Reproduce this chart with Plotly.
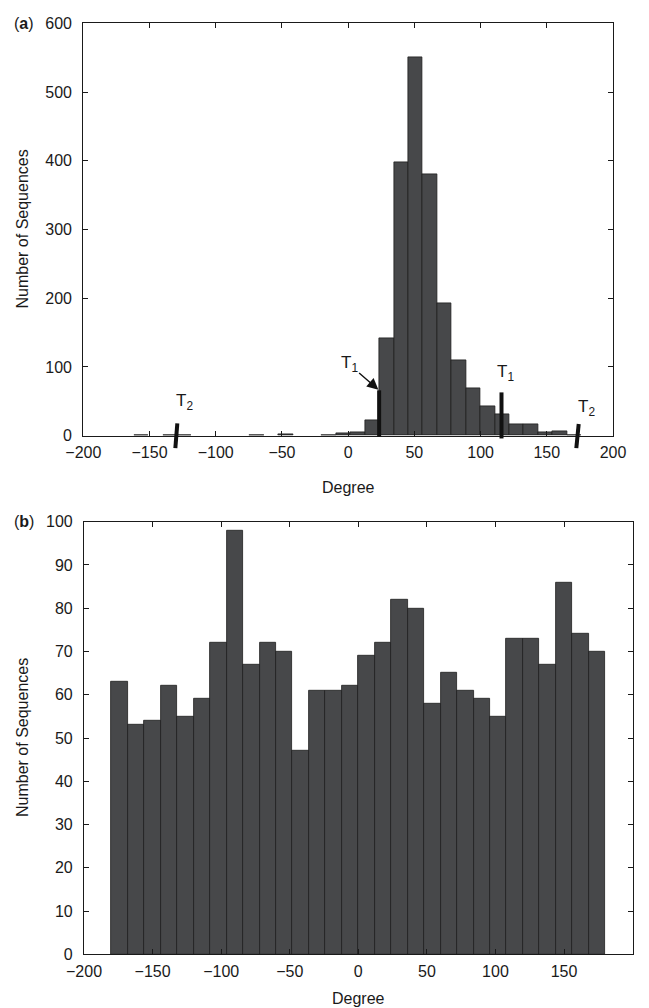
import plotly.graph_objects as go

# ---------------- data ----------------
top_centers = [-167.15, -156.25, -145.35, -134.45, -123.55, -112.65, -101.75, -90.85,
               -79.95, -69.05, -58.15, -47.25, -36.35, -25.45, -14.55, -3.65,
               7.25, 18.15, 29.05, 39.95, 50.85, 61.75, 72.65, 83.55,
               94.45, 105.35, 116.25, 127.15, 138.05, 148.95, 159.85, 170.75]
top_counts = [0, 1, 0, 1, 1, 0, 0, 0,
              0, 1, 0, 2, 0, 0, 1, 4,
              5, 22, 142, 398, 550, 381, 192, 110,
              69, 43, 31, 17, 17, 5, 7, 1]
top_bin_width = 10.9

bot_centers = [-174, -162, -150, -138, -126, -114, -102, -90, -78, -66,
               -54, -42, -30, -18, -6, 6, 18, 30, 42, 54,
               66, 78, 90, 102, 114, 126, 138, 150, 162, 174]
bot_counts = [63, 53, 54, 62, 55, 59, 72, 98, 67, 72,
              70, 47, 61, 61, 62, 69, 72, 82, 80, 58,
              65, 61, 59, 55, 73, 73, 67, 86, 74, 70]
bot_bin_width = 12

x_ticks = [-200, -150, -100, -50, 0, 50, 100, 150, 200]
top_y_ticks = [0, 100, 200, 300, 400, 500, 600]
bot_y_ticks = [0, 10, 20, 30, 40, 50, 60, 70, 80, 90, 100]

# threshold markers (top panel): x at top, x at bottom, y top, y bottom
marker_names = ["T1", "T1", "T2", "T2"]
marker_x_top = [23.4, 115.8, -129.0, 174.1]
marker_x_bot = [23.4, 115.8, -130.5, 172.3]
marker_y_top = [66, 63, 18, 17]
marker_y_bot = [-1, -4, -18, -18]

# labels for markers (x, y in data units)
label_x = [119.0, -123.5, 180.0]
label_y = [91, 49, 40]
label_text = ["T<sub>1</sub>", "T<sub>2</sub>", "T<sub>2</sub>"]

# page is 649x1008 with the browser's 8px body margin before the figure
W, H = 649, 1008
OFF = 8
FW, FH = W - 2 * OFF, H - OFF


def xp(px):
    return (px - OFF) / FW


def yp(py):
    return 1 - (py - OFF) / FH


FONT = "Liberation Sans, Arial, Helvetica, sans-serif"
INK = "#1a1a1a"
BAR = "#47484a"

top_line_w = [0.8 if c > 0 else 0 for c in top_counts]

fig = go.Figure()
fig.add_bar(x=top_centers, y=top_counts, width=top_bin_width, xaxis="x", yaxis="y",
            marker=dict(color=BAR, line=dict(color="#1e1e1e", width=top_line_w)),
            showlegend=False)
fig.add_bar(x=bot_centers, y=bot_counts, width=bot_bin_width, xaxis="x2", yaxis="y2",
            marker=dict(color=BAR, line=dict(color="#1e1e1e", width=0.8)), showlegend=False)

axis_common = dict(showline=True, linecolor=INK, linewidth=1.2, mirror="ticks",
                   ticks="inside", ticklen=5, tickcolor=INK, tickwidth=1,
                   showgrid=False, zeroline=False, automargin=False,
                   tickfont=dict(family=FONT, size=16, color=INK))

top_dom_y = [yp(435.7), yp(23.3)]
bot_dom_y = [yp(954.3), yp(521.7)]

fig.update_layout(
    template="none",
    width=FW, height=FH,
    margin=dict(l=0, r=0, t=0, b=0, pad=0, autoexpand=False),
    paper_bgcolor="white", plot_bgcolor="white",
    bargap=0,
    font=dict(family=FONT, size=16, color=INK),
    xaxis=dict(axis_common, domain=[xp(83.3), xp(613)], range=[-200, 200],
               tickvals=x_ticks, anchor="y", ticklabelstandoff=2),
    yaxis=dict(axis_common, domain=top_dom_y, range=[0, 600],
               tickvals=top_y_ticks, anchor="x", ticklabelstandoff=7),
    xaxis2=dict(axis_common, domain=[xp(84), xp(632.6)], range=[-200, 200],
                tickvals=x_ticks, anchor="y2", ticklabelstandoff=2),
    yaxis2=dict(axis_common, domain=bot_dom_y, range=[0, 100],
                tickvals=bot_y_ticks, anchor="x2", ticklabelstandoff=7),
)

# threshold marker lines
top_range = 600.0
for xt, xb, yt, yb in zip(marker_x_top, marker_x_bot, marker_y_top, marker_y_bot):
    fig.add_shape(type="line", xref="x", yref="y domain",
                  x0=xb, x1=xt, y0=yb / top_range, y1=yt / top_range,
                  line=dict(color="#111111", width=4), layer="above")

tfont = dict(family=FONT, size=17, color=INK)
# T1 with arrow
fig.add_annotation(x=marker_x_top[0], y=marker_y_top[0], xref="x", yref="y",
                   text="T<sub>1</sub>", showarrow=True, ax=-30, ay=-26,
                   arrowhead=2, arrowsize=1.6, arrowwidth=1.4, arrowcolor="#111111",
                   standoff=1, font=tfont)
for lx, ly, lt in zip(label_x, label_y, label_text):
    fig.add_annotation(x=lx, y=ly, xref="x", yref="y", text=lt, showarrow=False,
                       font=tfont, xanchor="center", yanchor="middle")

lab_font = dict(family=FONT, size=16, color=INK)
# panel labels
fig.add_annotation(x=xp(12), y=yp(23), xref="paper", yref="paper", text="(<b>a</b>)",
                   showarrow=False, xanchor="left", yanchor="middle", font=lab_font)
fig.add_annotation(x=xp(12), y=yp(521), xref="paper", yref="paper", text="(<b>b</b>)",
                   showarrow=False, xanchor="left", yanchor="middle", font=lab_font)
# axis titles
fig.add_annotation(x=xp(22), y=(top_dom_y[0] + top_dom_y[1]) / 2, xref="paper", yref="paper",
                   text="Number of Sequences", textangle=-90, showarrow=False,
                   xanchor="center", yanchor="middle", font=lab_font)
fig.add_annotation(x=xp(22), y=(bot_dom_y[0] + bot_dom_y[1]) / 2, xref="paper", yref="paper",
                   text="Number of Sequences", textangle=-90, showarrow=False,
                   xanchor="center", yanchor="middle", font=lab_font)
fig.add_annotation(x=xp((83.3 + 613) / 2), y=yp(487), xref="paper", yref="paper",
                   text="Degree", showarrow=False, xanchor="center", yanchor="middle", font=lab_font)
fig.add_annotation(x=xp((84 + 632.6) / 2), y=yp(998), xref="paper", yref="paper",
                   text="Degree", showarrow=False, xanchor="center", yanchor="middle", font=lab_font)

fig.write_html("out.html")
